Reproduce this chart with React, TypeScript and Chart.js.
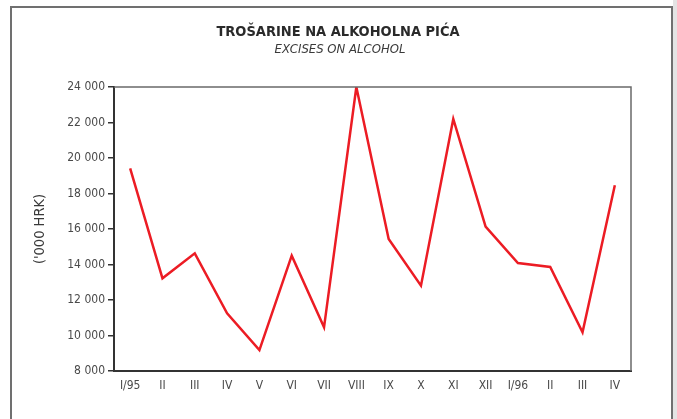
import React, { useEffect, useRef } from "react";
import { Chart, registerables } from "chart.js";

Chart.register(...registerables);

const TITLE = "TROŠARINE NA ALKOHOLNA PIĆA";
const SUBTITLE = "EXCISES ON ALCOHOL";
const Y_TITLE = "('000 HRK)";

const months = ["I/95", "II", "III", "IV", "V", "VI", "VII", "VIII", "IX", "X", "XI", "XII", "I/96", "II", "III", "IV"];
const excises = [19420, 13220, 14630, 11250, 9180, 14500, 10460, 24000, 15440, 12810, 22200, 16130, 14085, 13860, 10180, 18460];

const Y_MIN = 8000;
const Y_MAX = 24000;
const Y_STEP = 2000;

const FONT = "'DejaVu Sans Condensed', 'DejaVu Sans', sans-serif";

const fmt = (v: number) => String(v).replace(/\B(?=(\d{3})+(?!\d))/g, " ");

const framePlugin = {
  id: "framePlugin",
  afterDraw(chart: any) {
    const { ctx, chartArea } = chart;
    const { left, right, top, bottom } = chartArea;
    ctx.save();
    ctx.strokeStyle = "#6a6a6a";
    ctx.lineWidth = 1.5;
    ctx.beginPath();
    ctx.moveTo(left, top);
    ctx.lineTo(right, top);
    ctx.lineTo(right, bottom);
    ctx.stroke();
    // titles
    ctx.fillStyle = "#2a2a2a";
    ctx.textAlign = "center";
    ctx.textBaseline = "middle";
    ctx.font = `bold 14.5px ${FONT}`;
    ctx.fillText(TITLE, 338, 32);
    ctx.fillStyle = "#3a3a3a";
    ctx.font = `italic 13px ${FONT}`;
    ctx.fillText(SUBTITLE, 340, 50);
    ctx.restore();
  },
};

export default function App() {
  const ref = useRef<HTMLCanvasElement | null>(null);

  useEffect(() => {
    if (!ref.current) return;
    const chart = new Chart(ref.current, {
      type: "line",
      data: {
        labels: months,
        datasets: [
          {
            data: excises,
            borderColor: "#ec1c24",
            borderWidth: 2.5,
            pointRadius: 0,
            tension: 0,
            fill: false,
          },
        ],
      },
      options: {
        responsive: false,
        animation: false,
        layout: { padding: { left: 0, right: 46, top: 87, bottom: 0 } },
        plugins: {
          legend: { display: false },
          tooltip: { enabled: false },
          title: { display: false },
        },
        scales: {
          x: {
            type: "category",
            offset: true,
            grid: { display: false, drawTicks: false },
            border: { display: true, color: "#333333", width: 2 },
            ticks: {
              color: "#4a4a4a",
              font: { family: FONT, size: 12 },
              padding: 8,
              maxRotation: 0,
              autoSkip: false,
            },
            afterFit: (scale: any) => {
              scale.height = 48;
            },
          },
          y: {
            min: Y_MIN,
            max: Y_MAX,
            ticks: {
              stepSize: Y_STEP,
              color: "#4a4a4a",
              font: { family: FONT, size: 12 },
              padding: 3,
              callback: (v: any) => fmt(Number(v)),
            },
            grid: {
              display: true,
              drawOnChartArea: false,
              drawTicks: true,
              tickLength: 6,
              color: "#333333",
              lineWidth: 1.5,
            },
            border: { display: true, color: "#333333", width: 2 },
            title: {
              display: true,
              text: Y_TITLE,
              color: "#3a3a3a",
              font: { family: FONT, size: 14.5, weight: "normal" },
              padding: { top: 32, bottom: 0 },
            },
            afterFit: (scale: any) => {
              scale.width = 114;
            },
          },
        },
      },
      plugins: [framePlugin],
    });
    return () => chart.destroy();
  }, []);

  return (
    <div
      style={{
        position: "fixed",
        left: 0,
        top: 0,
        width: 677,
        height: 419,
        overflow: "hidden",
        background: "#ffffff",
      }}
    >
      <div
        style={{
          position: "absolute",
          left: 673,
          top: 0,
          width: 4,
          height: 419,
          background: "#e4e4e4",
        }}
      />
      <div
        style={{
          position: "absolute",
          left: 10,
          top: 6,
          width: 659,
          height: 500,
          borderLeft: "2px solid #707070",
          borderTop: "2px solid #707070",
          borderRight: "2px solid #707070",
        }}
      />
      <canvas
        ref={ref}
        width={677}
        height={419}
        style={{ position: "absolute", left: 0, top: 0, width: 677, height: 419, display: "block" }}
      />
    </div>
  );
}
